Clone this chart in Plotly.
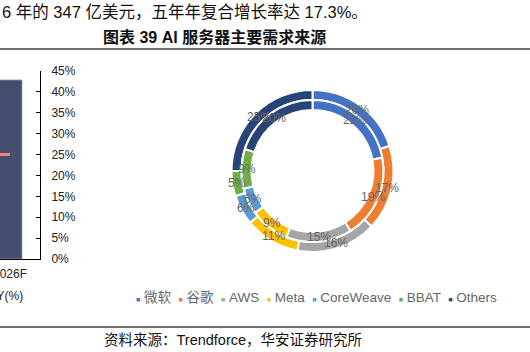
import math
import plotly.graph_objects as go

W, H = 530, 352

# ---- data ----
companies = ["微软", "谷歌", "AWS", "Meta", "CoreWeave", "BBAT", "Others"]
colors = ["#4472C4", "#ED7D31", "#A5A5A5", "#FFC000", "#5B9BD5", "#70AD47", "#264478"]
outer_share = [20, 17, 16, 11, 6, 5, 25]
inner_share = [22, 19, 15, 9, 6, 9, 20]

left_years = ["2025F", "2026F"]
left_bar = [None, 381]
left_yoy = [25, 25]
yoy_ticks = [0, 5, 10, 15, 20, 25, 30, 35, 40, 45]
yoy_labels = [f"{t}%" for t in yoy_ticks]


def px(x):
    return x / W


def py(y):
    return 1 - y / H


FONT = "Liberation Sans, Arial, Noto Sans CJK SC"

fig = go.Figure()

# ---- partial left chart ----
fig.add_trace(go.Bar(x=left_years, y=left_bar, width=0.4,
                     marker=dict(color="#434D6C", line=dict(color="#9aa2b6", width=0.8)),
                     showlegend=False, hoverinfo="skip"))
fig.add_trace(go.Scatter(x=left_years, y=left_yoy, yaxis="y2", mode="lines",
                         line=dict(color="#F2817C", width=3), showlegend=False))

# ---- donut ----
cx, cy = 312.5, 171
R_out, r_out = 81, 71
R_in, r_in = 71, 61
fig.add_trace(go.Pie(labels=companies, values=outer_share, sort=False, direction="clockwise",
                     hole=r_out / R_out, textinfo="none", showlegend=False,
                     marker=dict(colors=colors, line=dict(color="white", width=2)),
                     domain=dict(x=[px(cx - R_out), px(cx + R_out)], y=[py(cy + R_out), py(cy - R_out)])))
fig.add_trace(go.Pie(labels=companies, values=inner_share, sort=False, direction="clockwise",
                     hole=r_in / R_in, textinfo="none", showlegend=False,
                     marker=dict(colors=colors, line=dict(color="white", width=2)),
                     domain=dict(x=[px(cx - R_in), px(cx + R_in)], y=[py(cy + R_in), py(cy - R_in)])))

annotations = []


def ring_labels(vals, rmid):
    tot = sum(vals)
    cum = 0
    for v in vals:
        a = math.radians((cum + v / 2) / tot * 360)
        cum += v
        x = cx + rmid * math.sin(a)
        y = cy - rmid * math.cos(a)
        annotations.append(dict(x=px(x), y=py(y), xref="paper", yref="paper", showarrow=False,
                                text=f"{v}%", font=dict(family=FONT, size=12, color="#666666"),
                                xanchor="center", yanchor="middle"))


ring_labels(outer_share, 76)
ring_labels(inner_share, 66)

# legend as a single line of text
items = []
for c, n in zip(colors, companies):
    items.append(f"<span style='color:{c};font-size:7px'>■</span> {n}")
legend_text = "  ".join(items)
annotations.append(dict(x=px(316), y=py(297), xref="paper", yref="paper", showarrow=False,
                        text=legend_text, font=dict(family=FONT, size=13.5, color="#666666"),
                        xanchor="center", yanchor="middle"))

# texts
annotations.append(dict(x=px(0), y=py(12), xref="paper", yref="paper", showarrow=False,
                        text="6 年的 347 亿美元，五年年复合增长率达 17.3%。",
                        font=dict(family=FONT, size=16.5, color="#111111"),
                        xanchor="left", yanchor="middle"))
annotations.append(dict(x=px(214), y=py(37), xref="paper", yref="paper", showarrow=False,
                        text="<b>图表 39 AI 服务器主要需求来源</b>",
                        font=dict(family=FONT, size=16, color="#111111"),
                        xanchor="center", yanchor="middle"))
annotations.append(dict(x=px(233), y=py(340), xref="paper", yref="paper", showarrow=False,
                        text="资料来源：Trendforce，华安证券研究所",
                        font=dict(family=FONT, size=14.5, color="#111111"),
                        xanchor="center", yanchor="middle"))
annotations.append(dict(x=px(25), y=py(296), xref="paper", yref="paper", showarrow=False,
                        text="YoY(%)", font=dict(family=FONT, size=12, color="#222222"),
                        xanchor="right", yanchor="middle"))

shapes = [
    dict(type="line", xref="paper", yref="paper", x0=0, x1=1, y0=py(49), y1=py(49),
         line=dict(color="#404040", width=1.5)),
    dict(type="line", xref="paper", yref="paper", x0=0, x1=1, y0=py(327), y1=py(327),
         line=dict(color="#404040", width=1.5)),
]

fig.update_layout(
    width=W, height=H, margin=dict(l=0, r=0, t=0, b=0, autoexpand=False),
    paper_bgcolor="white", plot_bgcolor="white",
    font=dict(family=FONT, size=12, color="#222222"),
    xaxis=dict(domain=[0, px(40)], type="category", range=[0.8333, 1.5], showline=True,
               linecolor="#000000", linewidth=1, ticks="", showgrid=False, zeroline=False,
               automargin=False, ticklabelstandoff=4,
               tickfont=dict(size=12, color="#222222")),
    yaxis=dict(domain=[py(259), py(71)], range=[0, 400], visible=False, showgrid=False,
               automargin=False),
    yaxis2=dict(overlaying="y", side="right", anchor="x", range=[0, 45], tickmode="array",
                tickvals=yoy_ticks, ticktext=yoy_labels, automargin=False,
                showline=True, linecolor="#000000", linewidth=1,
                ticks="inside", ticklen=4, tickcolor="#000000", showgrid=False, zeroline=False,
                ticklabelstandoff=8, tickfont=dict(size=12, color="#222222")),
    bargap=0.6,
    annotations=annotations,
    shapes=shapes,
)

fig.write_html("out.html")
